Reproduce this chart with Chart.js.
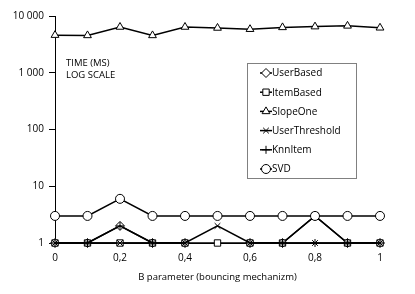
<!DOCTYPE html>
<html>
<head>
<meta charset="utf-8">
<script src="https://cdn.jsdelivr.net/npm/chart.js@4/dist/chart.umd.min.js"></script>
<style>
  html, body { margin: 0; padding: 0; background: #fff; }
  #wrap { width: 415px; height: 294px; position: relative; }
</style>
</head>
<body>
<div id="wrap"><canvas id="chart" width="415" height="294"></canvas></div>
<script>
/* =========================
   DATA
========================= */
const xValues = [0, 0.1, 0.2, 0.3, 0.4, 0.5, 0.6, 0.7, 0.8, 0.9, 1];
const yTicks = [1, 10, 100, 1000, 10000];
const seriesNames = ["UserBased", "ItemBased", "SlopeOne", "UserThreshold", "KnnItem", "SVD"];

const userBased     = [1, 1, 2, 1, 1, null, 1, 1, 3, 1, 1];
const itemBased     = [1, 1, 1, 1, 1, 1, 1, 1, 3, 1, 1];
const slopeOne      = [4600, 4550, 6400, 4550, 6400, 6150, 5850, 6300, 6500, 6700, 6200];
const userThreshold = [1, 1, 1, 1, 1, 2, 1, 1, 1, 1, 1];
const knnItem       = [1, 1, 2, 1, 1, null, 1, 1, 1, 1, 1];
const svd           = [3, 3, 6, 3, 3, 3, 3, 3, 3, 3, 3];

const seriesValues = [userBased, itemBased, slopeOne, userThreshold, knnItem, svd];
const pointStyles = ["rectRot", "rect", "triangle", "crossRot", "cross", "circle"];
const pointSizes = [4.5, 4.5, 4.5, 4, 4, 4.5];

const FONT = "'Open Sans', 'Noto Sans', sans-serif";

function toPoints(values) {
    return xValues.map((x, i) => ({ x: x, y: values[i] }));
}

function formatThousands(v) {
    return String(v).replace(/\B(?=(\d{3})+(?!\d))/g, " ");
}

/* =========================
   PLUGINS
========================= */
const noteText = {
    id: "noteText",
    afterDraw(chart) {
        const ctx = chart.ctx;
        ctx.save();
        ctx.fillStyle = "#000";
        ctx.font = "9.5px " + FONT;
        ctx.textBaseline = "middle";
        ctx.textAlign = "left";
        ctx.fillText("TIME (MS)", 66, 63);
        ctx.fillText("LOG SCALE", 66, 75);
        ctx.restore();
    }
};

const boxLegend = {
    id: "boxLegend",
    afterDraw(chart) {
        const ctx = chart.ctx;
        ctx.save();
        ctx.fillStyle = "#fff";
        ctx.fillRect(247.5, 63.5, 109, 115);
        ctx.strokeStyle = "#808080";
        ctx.lineWidth = 1;
        ctx.strokeRect(247.5, 63.5, 109, 115);

        seriesNames.forEach((name, i) => {
            const y = 73 + i * 19.2;
            ctx.strokeStyle = "#000";
            ctx.lineWidth = 1.5;
            ctx.beginPath();
            ctx.moveTo(260, y);
            ctx.lineTo(272, y);
            ctx.stroke();

            ctx.fillStyle = "#fff";
            ctx.lineWidth = 1;
            if (Chart.helpers && Chart.helpers.drawPoint) {
                Chart.helpers.drawPoint(ctx, {
                    pointStyle: pointStyles[i],
                    radius: pointSizes[i],
                    rotation: 0,
                    borderWidth: 1
                }, 266, y);
            }

            ctx.fillStyle = "#000";
            ctx.font = "10px " + FONT;
            ctx.textBaseline = "middle";
            ctx.textAlign = "left";
            ctx.fillText(name, 272, y + 0.5);
        });
        ctx.restore();
    }
};

/* =========================
   CHART
========================= */
const datasets = seriesNames.map((name, i) => ({
    label: name,
    data: toPoints(seriesValues[i]),
    borderColor: "#000",
    borderWidth: 1.5,
    backgroundColor: "#fff",
    pointStyle: pointStyles[i],
    pointRadius: pointSizes[i],
    pointBorderWidth: 1,
    pointBackgroundColor: "#fff",
    pointBorderColor: "#000",
    showLine: true,
    tension: 0,
    clip: false,
    order: seriesNames.length - i
}));

new Chart(document.getElementById("chart"), {
    type: "scatter",
    data: { datasets: datasets },
    options: {
        responsive: false,
        animation: false,
        layout: { padding: { top: 16, right: 35, bottom: 0, left: 0 } },
        plugins: {
            legend: { display: false },
            tooltip: { enabled: false }
        },
        scales: {
            x: {
                type: "linear",
                min: 0,
                max: 1,
                afterBuildTicks(scale) {
                    scale.ticks = [0, 0.2, 0.4, 0.6, 0.8, 1].map(v => ({ value: v }));
                },
                afterFit(scale) { scale.height = 51; },
                ticks: {
                    color: "#000",
                    padding: 9,
                    font: { family: FONT, size: 10 },
                    callback: v => String(Math.round(v * 10) / 10).replace(".", ",")
                },
                grid: { display: false, drawTicks: false },
                border: { display: true, color: "#000", width: 1 },
                title: {
                    display: true,
                    text: "B parameter (bouncing mechanizm)",
                    color: "#000",
                    font: { family: FONT, size: 9.5 },
                    padding: { top: 0, bottom: 11 }
                }
            },
            y: {
                type: "logarithmic",
                min: 1,
                max: 10000,
                afterBuildTicks(scale) {
                    scale.ticks = yTicks.map(v => ({ value: v }));
                },
                afterFit(scale) { scale.width = 55; },
                ticks: {
                    color: "#000",
                    padding: 5,
                    font: { family: FONT, size: 10 },
                    callback: v => formatThousands(v)
                },
                grid: {
                    drawOnChartArea: false,
                    drawTicks: true,
                    tickLength: 6,
                    color: "#000"
                },
                border: { display: true, color: "#000", width: 1 }
            }
        }
    },
    plugins: [noteText, boxLegend]
});
</script>
</body>
</html>
